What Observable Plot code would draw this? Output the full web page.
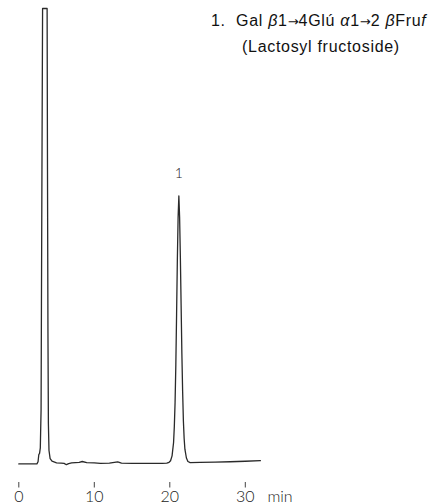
<!DOCTYPE html>
<html><head><meta charset="utf-8">
<script src="https://cdn.jsdelivr.net/npm/d3@7"></script>
<script src="https://cdn.jsdelivr.net/npm/@observablehq/plot@0.6"></script>
<style>
html,body{margin:0;padding:0;background:#fff;}
#wrap{position:relative;width:428px;height:504px;overflow:hidden;}
.note{position:absolute;font-family:"Liberation Sans",Arial,sans-serif;font-size:16px;line-height:16px;letter-spacing:0.7px;color:#111;white-space:nowrap;}
.arr{font-family:"DejaVu Sans",sans-serif;font-size:13px;letter-spacing:0;}
</style></head><body>
<div id="wrap"><div id="chart"></div>
<div class="note" style="left:211px;top:12.5px;letter-spacing:0.7px">1.&nbsp; Gal <i>β</i>1<span class="arr">→</span>4Glú <i>α</i>1<span class="arr">→</span>2 <i>β</i>Fru<i>f</i></div>
<div class="note" style="left:242px;top:38.5px">(Lactosyl fructoside)</div>
</div>
<script>
// retention time (min)
const times = [0, 1, 2, 2.4, 2.55, 2.65, 2.75, 2.85, 2.95, 3.0, 3.08, 3.15, 3.75, 3.8, 3.86, 3.92, 4.0, 4.15, 4.4, 5.0, 5.6, 6.0, 6.3, 6.6, 7.0, 8.0, 8.4, 9.0, 10.0, 10.8, 12.0, 13.1, 13.6, 15.0, 17.0, 19.0, 19.6, 19.9, 20.1, 20.3, 20.5, 20.6, 20.7, 20.8, 20.9, 21.0, 21.1, 21.2, 21.3, 21.4, 21.5, 21.6, 21.7, 21.8, 21.9, 22.0, 22.2, 22.4, 22.7, 24.0, 26.0, 28.0, 30.0, 32.0];
// detector response (relative, peak 1 = 100; first peak off scale)
const signal = [0, 0, 0, 0, 0.8, 3.5, 3.9, 6, 20, 60, 120, 170, 170, 110, 50, 15, 5, 2, 1.0, 0.4, 0.3, 0.2, -0.3, 0.1, 0.4, 0.6, 0.9, 0.5, 0.4, 0.2, 0.3, 0.75, 0.3, 0.2, 0.2, 0.2, 0.3, 0.6, 1.2, 3, 8, 14, 23, 37, 56, 76, 92, 100, 92, 77, 59, 41, 27, 16, 9.5, 5.5, 2.2, 0.9, 0.5, 0.6, 0.7, 0.8, 1.0, 1.2];
const tickValues = [0, 10, 20, 30];
const peakTimes = [21.2];
const peakHeights = [100];
const peakLabels = ["1"];
const unitLabel = "min";

const trace = times.map((t, i) => ({t, v: signal[i]}));
const peaks = peakTimes.map((t, i) => ({t, v: peakHeights[i], label: peakLabels[i]}));

const chart = Plot.plot({
  width: 428,
  height: 504,
  marginLeft: 18.3,
  marginRight: 168.1,
  marginTop: 8,
  marginBottom: 22,
  style: {fontFamily: "Lato, 'DejaVu Sans', sans-serif", fontWeight: 300, color: "#222", background: "#fff"},
  x: {domain: [0, 32]},
  y: {domain: [-6.94, 170], axis: null},
  marks: [
    Plot.line(trace, {x: "t", y: "v", stroke: "#2a2a2a", strokeWidth: 1.3}),
    Plot.text(peaks, {x: "t", y: "v", text: "label", dy: -18, lineAnchor: "bottom", fontSize: 14, fill: "#222"}),
    Plot.axisX({ticks: tickValues, tickSize: 5.5, tickPadding: 2.5, label: null, fontSize: 16, stroke: "#444"}),
    Plot.text([unitLabel], {frameAnchor: "bottom-right", text: d => d, textAnchor: "start", lineAnchor: "top", dx: 7, dy: 8, fontSize: 16, fill: "#222"})
  ]
});
document.getElementById("chart").appendChild(chart);
</script>
</body></html>
